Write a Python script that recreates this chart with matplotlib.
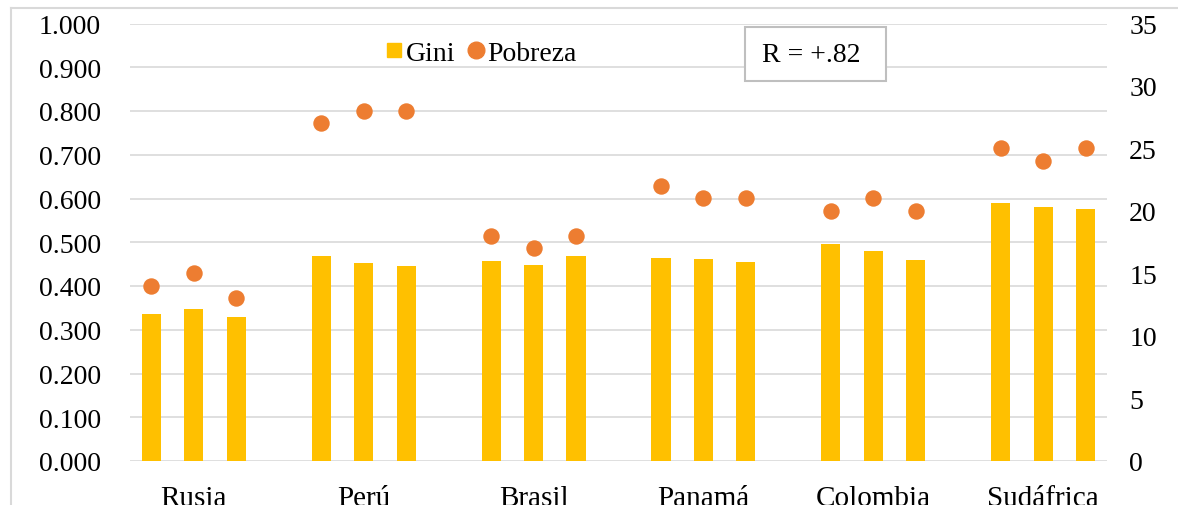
import matplotlib.pyplot as plt
from matplotlib.lines import Line2D
from matplotlib.patches import Rectangle

paises = ['Rusia', 'Perú', 'Brasil', 'Panamá', 'Colombia', 'Sudáfrica']
gini = [0.337, 0.348, 0.330,
        0.468, 0.453, 0.446,
        0.458, 0.449, 0.469,
        0.465, 0.462, 0.456,
        0.496, 0.481, 0.460,
        0.590, 0.581, 0.577]
pobreza = [14, 15, 13,
           27, 28, 28,
           18, 17, 18,
           22, 21, 21,
           20, 21, 20,
           25, 24, 25]
r_texto = 'R = +.82'

plt.rcParams['font.family'] = ['Liberation Serif', 'DejaVu Serif']

W, H = 1178, 506
fig = plt.figure(figsize=(W / 100, H / 100), dpi=100)
ax = fig.add_axes([130 / W, 1 - 462 / H, (1107 - 130) / W, (462 - 24.5) / H])
ax2 = ax.twinx()

# 3 barras por pais y un hueco entre grupos
xs = []
for g in range(len(paises)):
    for k in range(3):
        xs.append(g * 4 + k)
centros = [g * 4 + 1 for g in range(len(paises))]

ax.set_axisbelow(True)
ax.yaxis.grid(True, color='#D9D9D9', linewidth=1.2)
ax.bar(xs, gini, width=0.45, color='#FFC000', label='Gini', zorder=2)
ax2.scatter(xs, pobreza, s=140, color='#ED7D31', label='Pobreza', zorder=3,
            linewidths=0)

ax.set_xlim(-0.5, 22.5)
ax.set_ylim(0, 1.0)
ax2.set_ylim(0, 35)
ax.set_yticks([i / 10 for i in range(11)])
ax.set_yticklabels(['%.3f' % (i / 10) for i in range(11)])
ax2.set_yticks(range(0, 36, 5))
ax.set_xticks(centros)
ax.set_xticklabels(paises)

for a in (ax, ax2):
    for s in a.spines.values():
        s.set_visible(False)
    a.tick_params(length=0, labelsize=20, colors='black')
ax.tick_params(axis='y', pad=21)
ax2.tick_params(axis='y', pad=16)
ax.tick_params(axis='x', pad=17, labelsize=21)

h1, l1 = ax.get_legend_handles_labels()
h2, l2 = ax2.get_legend_handles_labels()
leg = fig.legend(
    [Line2D([], [], marker='s', linestyle='', color='#FFC000', markersize=10.5),
     Line2D([], [], marker='o', linestyle='', color='#ED7D31', markersize=12)],
    l1 + l2, loc='center left', bbox_to_anchor=(386 / W, 1 - 54 / H),
    ncol=2, frameon=False, fontsize=20, handlelength=0.6, handletextpad=0.1,
    columnspacing=0.45, borderaxespad=0, borderpad=0)

# cuadro con el coeficiente
fig.add_artist(Rectangle((745 / W, 1 - 82 / H), (886 - 745) / W, (82 - 28) / H,
                         transform=fig.transFigure, fc='white', ec='#BFBFBF',
                         lw=1.5, zorder=5))
fig.text(811 / W, 1 - 56 / H, r_texto, fontsize=20, ha='center', va='center',
         zorder=6)

# marco del grafico
fig.add_artist(Line2D([11 / W, 11 / W], [0, 1 - 9 / H], color='#D9D9D9', lw=1.5))
fig.add_artist(Line2D([11 / W, 1], [1 - 9 / H, 1 - 9 / H], color='#D9D9D9', lw=1.5))

fig.savefig('out.png', dpi=100)
